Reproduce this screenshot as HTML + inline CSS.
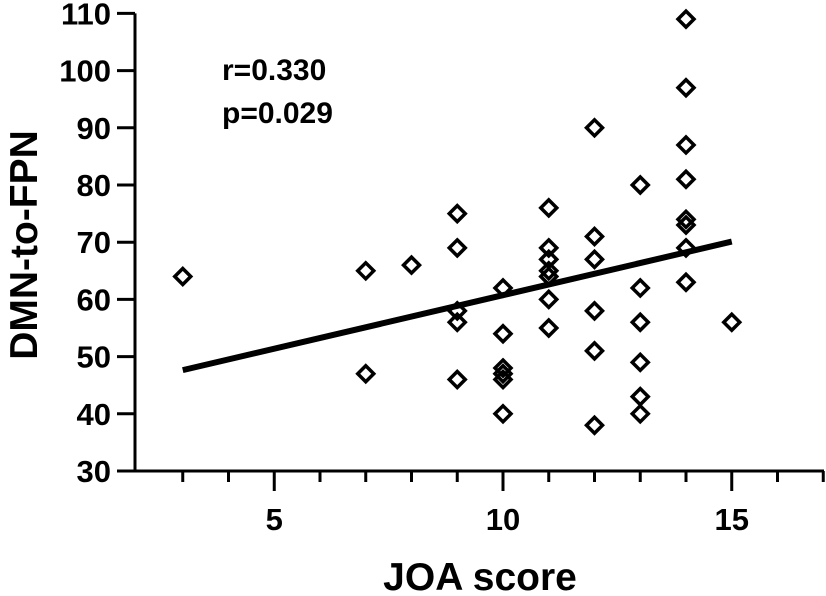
<!DOCTYPE html>
<html><head><meta charset="utf-8"><style>
body{margin:0;background:#fff}
svg{display:block;font-family:"Liberation Sans",Arial,sans-serif;font-weight:bold}
</style></head><body>
<svg id="c" width="826" height="596"></svg>
<script>
const xs=[3,7,7,8,9,9,9,9,9,10,10,10,10,10,10,11,11,11,11,11,11,11,12,12,12,12,12,12,13,13,13,13,13,13,14,14,14,14,14,14,14,14,15];
const ys=[64,65,47,66,75,69,58,56,46,62,54,48,47,46,40,76,69,67,65,64,60,55,90,71,67,58,51,38,80,62,56,49,43,40,109,97,87,81,74,73,69,63,56];
const yTicks=[30,40,50,60,70,80,90,100,110];
const xMajor=[5,10,15];
const xMinor=[3,4,6,7,8,9,11,12,13,14,16,17];
const stats=["r=0.330","p=0.029"];
const NS="http://www.w3.org/2000/svg";
const svg=document.getElementById('c');
const X=v=>137+(v-2)*45.75;
const Y=v=>471-(v-30)*57.2/10;
function el(t,a,txt){const e=document.createElementNS(NS,t);for(const k in a)e.setAttribute(k,a[k]);if(txt!=null)e.textContent=txt;svg.appendChild(e);return e;}
let e;
e=el('line',{x1:135,y1:Y(110),x2:135,y2:472.5,stroke:'#000','stroke-width':3});


e=el('line',{x1:133.5,y1:471,x2:824,y2:471,stroke:'#000','stroke-width':3});


yTicks.forEach(v=>{
 e=el('line',{x1:117,y1:Y(v),x2:135,y2:Y(v),stroke:'#000','stroke-width':3});
 
 
 e=el('text',{x:111,y:Y(v)+11,'text-anchor':'end','font-size':31},v);
 
 
});
xMajor.forEach(v=>{
 e=el('line',{x1:X(v),y1:471,x2:X(v),y2:491,stroke:'#000','stroke-width':3});
 
 
 e=el('text',{x:X(v),y:530,'text-anchor':'middle','font-size':31},v);
 
 
});
xMinor.forEach(v=>{
 e=el('line',{x1:X(v),y1:471,x2:X(v),y2:482,stroke:'#000','stroke-width':3});
 
 
});
const n=xs.length,mx=xs.reduce((a,b)=>a+b)/n,my=ys.reduce((a,b)=>a+b)/n;
let sxy=0,sxx=0;for(let i=0;i<n;i++){sxy+=(xs[i]-mx)*(ys[i]-my);sxx+=(xs[i]-mx)**2;}
const b=sxy/sxx,a=my-b*mx;
const x0=Math.min(...xs),x1=Math.max(...xs);
e=el('line',{x1:X(x0),y1:Y(a+b*x0),x2:X(x1),y2:Y(a+b*x1),stroke:'#000','stroke-width':6});


for(let i=0;i<n;i++){
 const cx=X(xs[i]),cy=Y(ys[i]),r=8;
 e=el('polygon',{points:`${cx},${cy-r} ${cx+r},${cy} ${cx},${cy+r} ${cx-r},${cy}`,fill:'none',stroke:'#000','stroke-width':3.5});
 
 
}
e=el('text',{x:222,y:80,'font-size':30},stats[0]);


e=el('text',{x:222,y:123,'font-size':30},stats[1]);


e=el('text',{x:480,y:590,'text-anchor':'middle','font-size':39},'JOA score');


e=el('text',{x:0,y:0,'text-anchor':'middle','font-size':39,transform:'translate(37,245) rotate(-90)'},'DMN-to-FPN');


</script>
</body></html>
